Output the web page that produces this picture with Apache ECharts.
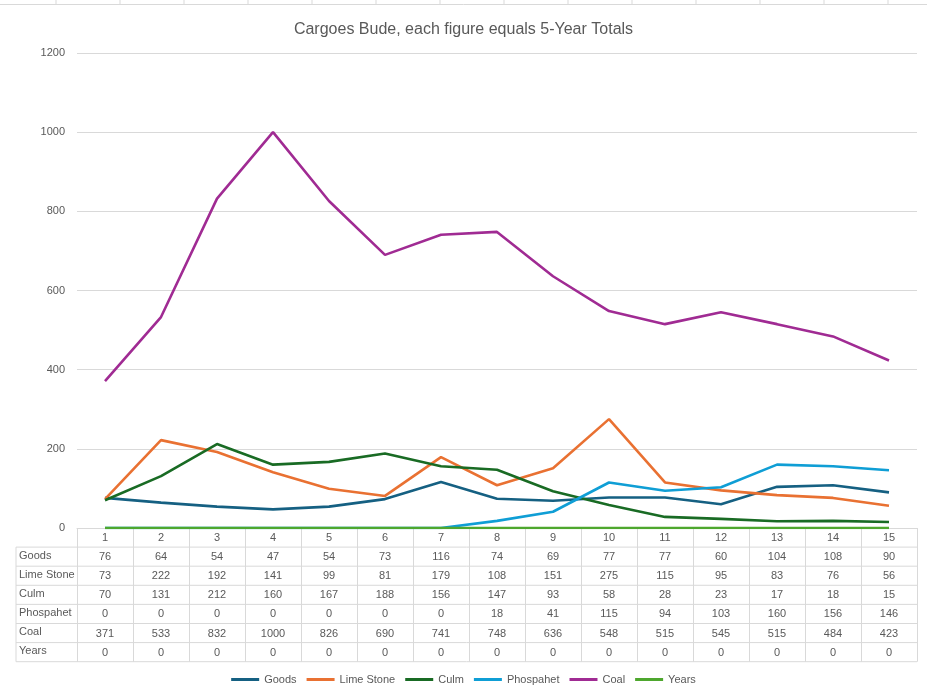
<!DOCTYPE html>
<html>
<head>
<meta charset="utf-8">
<script src="https://cdn.jsdelivr.net/npm/echarts@6/dist/echarts.min.js"></script>
<style>
  html, body { margin: 0; padding: 0; background: #fff; }
  #main { width: 927px; height: 695px; }
</style>
</head>
<body>
<div id="main"></div>
<script>
// 数据（每个数字为5年合计）
var periods   = ['1','2','3','4','5','6','7','8','9','10','11','12','13','14','15'];
var goods     = [76, 64, 54, 47, 54, 73, 116, 74, 69, 77, 77, 60, 104, 108, 90];
var limeStone = [73, 222, 192, 141, 99, 81, 179, 108, 151, 275, 115, 95, 83, 76, 56];
var culm      = [70, 131, 212, 160, 167, 188, 156, 147, 93, 58, 28, 23, 17, 18, 15];
var phospahet = [0, 0, 0, 0, 0, 0, 0, 18, 41, 115, 94, 103, 160, 156, 146];
var coal      = [371, 533, 832, 1000, 826, 690, 741, 748, 636, 548, 515, 545, 515, 484, 423];
var years     = [0, 0, 0, 0, 0, 0, 0, 0, 0, 0, 0, 0, 0, 0, 0];
var yTicks    = { min: 0, max: 1200, interval: 200 };

var rows = [
  { name: 'Goods',      data: goods,     color: '#156082' },
  { name: 'Lime Stone', data: limeStone, color: '#E97132' },
  { name: 'Culm',       data: culm,      color: '#196B24' },
  { name: 'Phospahet',  data: phospahet, color: '#0F9ED5' },
  { name: 'Coal',       data: coal,      color: '#A02B93' },
  { name: 'Years',      data: years,     color: '#4EA72E' }
];

var FONT = '"Liberation Sans", Arial, sans-serif';
var TXT = '#595959';
var BORDER = '#d9d9d9';

var gridLeft = 77, gridRight = 917, gridTop = 53, gridBottom = 528;
var rowH = 19.1;

// 表格的行（数据表）用额外的x轴画出来
var xAxes = [{
  type: 'category',
  data: periods,
  boundaryGap: true,
  axisLine: { show: true, lineStyle: { color: BORDER, width: 1 } },
  axisTick: { show: true, interval: 0, length: rowH * 7, lineStyle: { color: BORDER, width: 1 } },
  axisLabel: { interval: 0, margin: 10, verticalAlign: 'middle', color: TXT, fontSize: 11, fontFamily: FONT }
}];
rows.forEach(function (r, i) {
  xAxes.push({
    type: 'category',
    data: periods,
    position: 'bottom',
    offset: rowH * (i + 1),
    axisLine: { show: false },
    axisTick: { show: false },
    axisLabel: {
      interval: 0, margin: 10, verticalAlign: 'middle',
      color: TXT, fontSize: 11, fontFamily: FONT,
      formatter: function (v, idx) { return String(r.data[idx]); }
    }
  });
});

// 表格横线和行标题
var graphics = [];
function hline(x1, x2, y) {
  graphics.push({ type: 'line', silent: true, z: 1,
    shape: { x1: x1, y1: y, x2: x2, y2: y },
    style: { stroke: BORDER, lineWidth: 1 } });
}
for (var k = 1; k <= 7; k++) {
  hline(16, gridRight, gridBottom + rowH * k);
}
graphics.push({ type: 'line', silent: true,
  shape: { x1: 16, y1: gridBottom + rowH, x2: 16, y2: gridBottom + rowH * 7 },
  style: { stroke: BORDER, lineWidth: 1 } });
rows.forEach(function (r, i) {
  graphics.push({ type: 'text', silent: true, left: 19, top: gridBottom + rowH * (i + 1) + 3,
    style: { text: r.name, fill: TXT, font: '11px ' + FONT } });
});
// 顶部的表格线（Excel 单元格）
hline(0, 927, 4.5);
for (var c = 0; c < 15; c++) {
  var x = 56 + 64 * c;
  graphics.push({ type: 'line', silent: true,
    shape: { x1: x, y1: 0, x2: x, y2: 4.5 },
    style: { stroke: BORDER, lineWidth: 1 } });
}

var chart = echarts.init(document.getElementById('main'));
chart.setOption({
  animation: false,
  backgroundColor: '#fff',
  title: {
    text: 'Cargoes Bude, each figure equals 5-Year Totals',
    left: 'center', top: 17,
    textStyle: { color: TXT, fontSize: 16, fontWeight: 'normal', fontFamily: FONT }
  },
  legend: {
    bottom: 5, left: 'center',
    icon: 'rect', itemWidth: 28, itemHeight: 3, itemGap: 10,
    textStyle: { color: TXT, fontSize: 11, fontFamily: FONT },
    data: rows.map(function (r) { return r.name; })
  },
  grid: { left: gridLeft, right: 927 - gridRight, top: gridTop, bottom: 695 - gridBottom },
  xAxis: xAxes,
  yAxis: {
    type: 'value',
    min: yTicks.min, max: yTicks.max, interval: yTicks.interval,
    axisLine: { show: false },
    axisTick: { show: false },
    axisLabel: { color: TXT, fontSize: 11, fontFamily: FONT, margin: 12,
      formatter: function (v) { return String(v); } },
    splitLine: { lineStyle: { color: BORDER, width: 1 } }
  },
  graphic: graphics,
  series: rows.map(function (r) {
    return {
      name: r.name, type: 'line', data: r.data,
      xAxisIndex: 0,
      symbol: 'none', smooth: false,
      lineStyle: { color: r.color, width: 2.6 },
      itemStyle: { color: r.color }
    };
  })
});
</script>
</body>
</html>
